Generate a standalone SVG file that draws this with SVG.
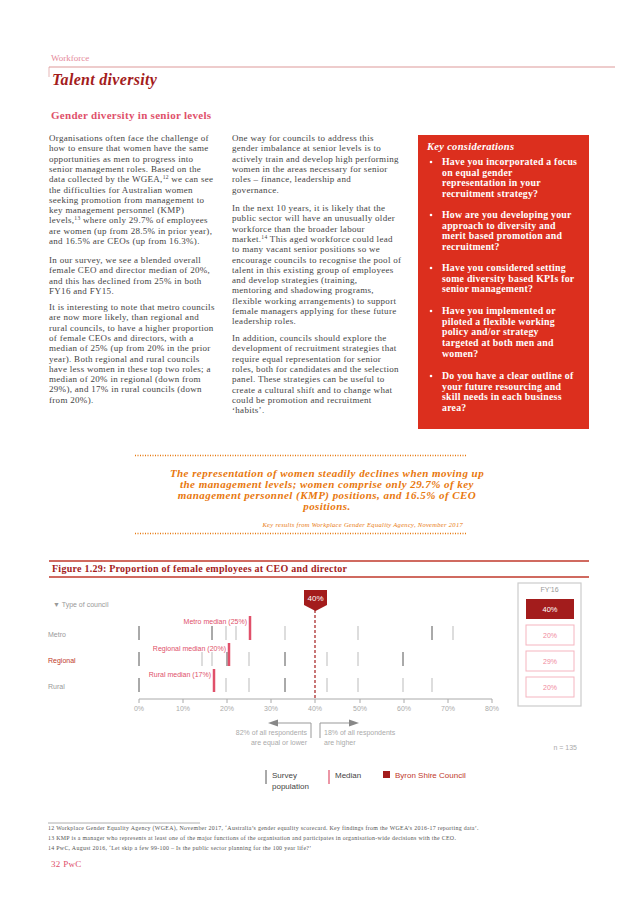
<svg xmlns="http://www.w3.org/2000/svg" width="637" height="902" viewBox="0 0 637 902">
<style>
.b{font-family:"Liberation Serif",serif;font-size:9px;letter-spacing:0.3px;fill:#444}
.k{font-family:"Liberation Serif",serif;font-size:9.8px;letter-spacing:0.25px;font-weight:bold;fill:#fff}
.s{font-family:"Liberation Sans",sans-serif;font-size:7px;fill:#999}
.q{font-family:"Liberation Serif",serif;font-size:11px;letter-spacing:0.45px;font-weight:bold;font-style:italic;fill:#e8780e}
.t{stroke:#555;stroke-width:1}
.tl{stroke:#bbb;stroke-width:1}
.m{stroke:#e0506a;stroke-width:2.5}
</style>
<rect width="637" height="902" fill="#fff"/>
<g id="header">
<text x="51" y="61" font-family="Liberation Serif,serif" font-size="9" fill="#e58a9a">Workforce</text>
<line x1="49" y1="67" x2="615" y2="67" stroke="#d99" stroke-width="1"/>
<line x1="49" y1="67" x2="49" y2="77" stroke="#d99" stroke-width="0.7"/>
<text x="52" y="85" font-family="Liberation Serif,serif" font-size="16" font-weight="bold" font-style="italic" letter-spacing="0.3" fill="#a31c1c">Talent diversity</text>
<text x="51" y="119" font-family="Liberation Serif,serif" font-size="11" font-weight="bold" letter-spacing="0.3" fill="#e0506a">Gender diversity in senior levels</text>
</g>
<g id="col1" class="b">
<text x="49" y="141">Organisations often face the challenge of</text>
<text x="49" y="151.3">how to ensure that women have the same</text>
<text x="49" y="161.6">opportunities as men to progress into</text>
<text x="49" y="171.9">senior management roles. Based on the</text>
<text x="49" y="182.2">data collected by the WGEA,<tspan font-size="5.5" dy="-3">12</tspan><tspan dy="3"> we can see</tspan></text>
<text x="49" y="192.5">the difficulties for Australian women</text>
<text x="49" y="202.8">seeking promotion from management to</text>
<text x="49" y="213.1">key management personnel (KMP)</text>
<text x="49" y="223.4">levels,<tspan font-size="5.5" dy="-3">13</tspan><tspan dy="3"> where only 29.7% of employees</tspan></text>
<text x="49" y="233.7">are women (up from 28.5% in prior year),</text>
<text x="49" y="244">and 16.5% are CEOs (up from 16.3%).</text>
<text x="49" y="263">In our survey, we see a blended overall</text>
<text x="49" y="273.3">female CEO and director median of 20%,</text>
<text x="49" y="283.6">and this has declined from 25% in both</text>
<text x="49" y="293.9">FY16 and FY15.</text>
<text x="49" y="310">It is interesting to note that metro councils</text>
<text x="49" y="320.3">are now more likely, than regional and</text>
<text x="49" y="330.6">rural councils, to have a higher proportion</text>
<text x="49" y="340.9">of female CEOs and directors, with a</text>
<text x="49" y="351.2">median of 25% (up from 20% in the prior</text>
<text x="49" y="361.5">year). Both regional and rural councils</text>
<text x="49" y="371.8">have less women in these top two roles; a</text>
<text x="49" y="382.1">median of 20% in regional (down from</text>
<text x="49" y="392.4">29%), and 17% in rural councils (down</text>
<text x="49" y="402.7">from 20%).</text>
</g>
<g id="col2" class="b">
<text x="232" y="141">One way for councils to address this</text>
<text x="232" y="151.3">gender imbalance at senior levels is to</text>
<text x="232" y="161.6">actively train and develop high performing</text>
<text x="232" y="171.9">women in the areas necessary for senior</text>
<text x="232" y="182.2">roles – finance, leadership and</text>
<text x="232" y="192.5">governance.</text>
<text x="232" y="211">In the next 10 years, it is likely that the</text>
<text x="232" y="221.3">public sector will have an unusually older</text>
<text x="232" y="231.6">workforce than the broader labour</text>
<text x="232" y="241.9">market.<tspan font-size="5.5" dy="-3">14</tspan><tspan dy="3"> This aged workforce could lead</tspan></text>
<text x="232" y="252.2">to many vacant senior positions so we</text>
<text x="232" y="262.5">encourage councils to recognise the pool of</text>
<text x="232" y="272.8">talent in this existing group of employees</text>
<text x="232" y="283.1">and develop strategies (training,</text>
<text x="232" y="293.4">mentoring and shadowing programs,</text>
<text x="232" y="303.7">flexible working arrangements) to support</text>
<text x="232" y="314">female managers applying for these future</text>
<text x="232" y="324.3">leadership roles.</text>
<text x="232" y="341">In addition, councils should explore the</text>
<text x="232" y="351.3">development of recruitment strategies that</text>
<text x="232" y="361.6">require equal representation for senior</text>
<text x="232" y="371.9">roles, both for candidates and the selection</text>
<text x="232" y="382.2">panel. These strategies can be useful to</text>
<text x="232" y="392.5">create a cultural shift and to change what</text>
<text x="232" y="402.8">could be promotion and recruitment</text>
<text x="232" y="413.1">‘habits’.</text>
</g>
<g id="key">
<rect x="418" y="135" width="171" height="294" fill="#dc2f1e"/>
<text x="427" y="150" font-family="Liberation Serif,serif" font-size="10.5" font-weight="bold" font-style="italic" letter-spacing="0.3" fill="#fff">Key considerations</text>
<g fill="#fff"><circle cx="431" cy="162" r="1.3"/><circle cx="431" cy="215" r="1.3"/><circle cx="431" cy="268" r="1.3"/><circle cx="431" cy="311" r="1.3"/><circle cx="431" cy="376" r="1.3"/></g>
<g class="k">
<text x="442" y="165">Have you incorporated a focus</text>
<text x="442" y="175.7">on equal gender</text>
<text x="442" y="186.4">representation in your</text>
<text x="442" y="197.1">recruitment strategy?</text>
<text x="442" y="218">How are you developing your</text>
<text x="442" y="228.7">approach to diversity and</text>
<text x="442" y="239.4">merit based promotion and</text>
<text x="442" y="250.1">recruitment?</text>
<text x="442" y="271">Have you considered setting</text>
<text x="442" y="281.7">some diversity based KPIs for</text>
<text x="442" y="292.4">senior management?</text>
<text x="442" y="314">Have you implemented or</text>
<text x="442" y="324.7">piloted a flexible working</text>
<text x="442" y="335.4">policy and/or strategy</text>
<text x="442" y="346.1">targeted at both men and</text>
<text x="442" y="356.8">women?</text>
<text x="442" y="379">Do you have a clear outline of</text>
<text x="442" y="389.7">your future resourcing and</text>
<text x="442" y="400.4">skill needs in each business</text>
<text x="442" y="411.1">area?</text>
</g>
</g>
<g id="quote">
<line x1="135" y1="455.5" x2="466" y2="455.5" stroke="#e8780e" stroke-width="1.5" stroke-dasharray="1 1.5"/>
<line x1="135" y1="533.5" x2="466" y2="533.5" stroke="#e8780e" stroke-width="1.5" stroke-dasharray="1 1.5"/>
<g class="q" text-anchor="middle">
<text x="327" y="477">The representation of women steadily declines when moving up</text>
<text x="327" y="488">the management levels; women comprise only 29.7% of key</text>
<text x="327" y="499">management personnel (KMP) positions, and 16.5% of CEO</text>
<text x="327" y="510">positions.</text>
</g>
<text x="463" y="527" text-anchor="end" font-family="Liberation Serif,serif" font-size="6.5" letter-spacing="0.3" font-style="italic" fill="#e8780e">Key results from Workplace Gender Equality Agency, November 2017</text>
</g>
<g id="figure-title">
<line x1="49" y1="561" x2="589" y2="561" stroke="#c0392b" stroke-width="1.5"/>
<text x="52" y="571.5" font-family="Liberation Serif,serif" font-size="10" font-weight="bold" letter-spacing="0.25" fill="#a31c1c">Figure 1.29: Proportion of female employees at CEO and director</text>
<line x1="49" y1="577" x2="589" y2="577" stroke="#c0392b" stroke-width="1.5"/>
</g>
<g id="chart">
<text x="53" y="607" class="s">▼ Type of council</text>
<text x="48" y="637" class="s">Metro</text>
<text x="48" y="663" class="s" style="fill:#c0392b">Regional</text>
<text x="48" y="689" class="s">Rural</text>
<g id="metro-ticks">
<line x1="139" y1="626" x2="139" y2="640" class="t"/><line x1="212" y1="626" x2="212" y2="640" class="t"/><line x1="226" y1="626" x2="226" y2="640" class="tl"/><line x1="236" y1="626" x2="236" y2="640" class="tl"/><line x1="285" y1="626" x2="285" y2="640" class="tl"/><line x1="358" y1="626" x2="358" y2="640" class="tl"/><line x1="432" y1="626" x2="432" y2="640" class="t"/><line x1="453" y1="626" x2="453" y2="640" class="tl"/>
<line x1="250" y1="616" x2="250" y2="640" class="m"/>
</g>
<g id="regional-ticks">
<line x1="139" y1="652" x2="139" y2="666" class="t"/><line x1="202" y1="652" x2="202" y2="666" class="tl"/><line x1="212" y1="652" x2="212" y2="666" class="tl"/><line x1="227" y1="652" x2="227" y2="666" class="t"/><line x1="249" y1="652" x2="249" y2="666" class="tl"/><line x1="285" y1="652" x2="285" y2="666" class="t"/><line x1="327" y1="652" x2="327" y2="666" class="tl"/><line x1="358" y1="652" x2="358" y2="666" class="tl"/><line x1="403" y1="652" x2="403" y2="666" class="t"/>
<line x1="229" y1="643" x2="229" y2="666" class="m"/>
</g>
<g id="rural-ticks">
<line x1="139" y1="678" x2="139" y2="692" class="t"/><line x1="226" y1="678" x2="226" y2="692" class="tl"/><line x1="249" y1="678" x2="249" y2="692" class="tl"/><line x1="285" y1="678" x2="285" y2="692" class="t"/><line x1="327" y1="678" x2="327" y2="692" class="tl"/><line x1="358" y1="678" x2="358" y2="692" class="tl"/><line x1="403" y1="678" x2="403" y2="692" class="tl"/><line x1="432" y1="678" x2="432" y2="692" class="tl"/>
<line x1="214" y1="669" x2="214" y2="692" class="m"/>
</g>
<g class="s" text-anchor="end" style="fill:#e0506a">
<text x="247" y="624">Metro median (25%)</text>
<text x="226" y="651">Regional median (20%)</text>
<text x="211" y="677">Rural median (17%)</text>
</g>
<g id="axis">
<line x1="139" y1="699" x2="492" y2="699" stroke="#aaa"/>
<g stroke="#aaa"><line x1="139" y1="699" x2="139" y2="703"/><line x1="183" y1="699" x2="183" y2="703"/><line x1="227" y1="699" x2="227" y2="703"/><line x1="271" y1="699" x2="271" y2="703"/><line x1="315" y1="699" x2="315" y2="703"/><line x1="360" y1="699" x2="360" y2="703"/><line x1="404" y1="699" x2="404" y2="703"/><line x1="448" y1="699" x2="448" y2="703"/><line x1="492" y1="699" x2="492" y2="703"/></g>
<g class="s" text-anchor="middle" style="fill:#aaa">
<text x="139" y="711">0%</text><text x="183" y="711">10%</text><text x="227" y="711">20%</text><text x="271" y="711">30%</text><text x="315" y="711">40%</text><text x="360" y="711">50%</text><text x="404" y="711">60%</text><text x="448" y="711">70%</text><text x="492" y="711">80%</text>
</g>
</g>
<g id="marker40">
<line x1="315" y1="610" x2="315" y2="699" stroke="#a31c1c" stroke-width="1.2" stroke-dasharray="3 2"/>
<path d="M304 590 H327 V605 L315.5 611 L304 605 Z" fill="#a31c1c"/>
<text x="315.5" y="601" text-anchor="middle" font-family="Liberation Sans,sans-serif" font-size="8" fill="#fff">40%</text>
</g>
<g id="respondents">
<path d="M311 738 V723 H277" fill="none" stroke="#999"/>
<path d="M268 723 L278 719.5 V726.5 Z" fill="#888"/>
<path d="M320 738 V723 H350" fill="none" stroke="#999"/>
<path d="M359 723 L349 719.5 V726.5 Z" fill="#888"/>
<g class="s" style="fill:#aaa">
<text x="307" y="735" text-anchor="end">82% of all respondents</text>
<text x="307" y="745" text-anchor="end">are equal or lower</text>
<text x="324" y="735">18% of all respondents</text>
<text x="324" y="745">are higher</text>
<text x="577" y="750" text-anchor="end">n = 135</text>
</g>
</g>
<g id="fy16">
<rect x="518" y="583" width="63" height="123" fill="#fff" stroke="#ccc" stroke-width="1.2"/>
<text x="549.5" y="592" text-anchor="middle" class="s">FY'16</text>
<rect x="526" y="599" width="48" height="20" fill="#a31c1c"/>
<text x="550" y="612" text-anchor="middle" font-family="Liberation Sans,sans-serif" font-size="7.5" fill="#fff">40%</text>
<g fill="#fff" stroke="#f5b5c0"><rect x="526" y="625" width="48" height="20"/><rect x="526" y="651" width="48" height="20"/><rect x="526" y="677" width="48" height="20"/></g>
<g class="s" text-anchor="middle" style="fill:#f08a9c"><text x="550" y="638">20%</text><text x="550" y="664">29%</text><text x="550" y="690">20%</text></g>
</g>
<g id="legend">
<line x1="266" y1="770" x2="266" y2="784" stroke="#555"/>
<text x="272" y="778" font-family="Liberation Sans,sans-serif" font-size="8" fill="#444">Survey</text>
<text x="272" y="789" font-family="Liberation Sans,sans-serif" font-size="8" fill="#444">population</text>
<line x1="329" y1="770" x2="329" y2="784" stroke="#e0506a" stroke-width="1.2"/>
<text x="335" y="778" font-family="Liberation Sans,sans-serif" font-size="8" fill="#444">Median</text>
<rect x="383" y="771" width="7" height="7" fill="#a31c1c"/>
<text x="395" y="778" font-family="Liberation Sans,sans-serif" font-size="8" fill="#c0392b">Byron Shire Council</text>
</g>
</g>
<g id="footnotes" font-family="Liberation Serif,serif" font-size="5.9" letter-spacing="0.3" fill="#555">
<line x1="48" y1="823" x2="200" y2="823" stroke="#999" stroke-width="0.8"/>
<text x="48" y="830">12 Workplace Gender Equality Agency (WGEA), November 2017, ‘Australia’s gender equality scorecard. Key findings from the WGEA’s 2016-17 reporting data’.</text>
<text x="48" y="840">13 KMP is a manager who represents at least one of the major functions of the organisation and participates in organisation-wide decisions with the CEO.</text>
<text x="48" y="850">14 PwC, August 2016, ‘Let skip a few 99-100 – Is the public sector planning for the 100 year life?’</text>
<text x="51" y="867" font-size="9" fill="#e0506a">32   PwC</text>
</g>
</svg>
